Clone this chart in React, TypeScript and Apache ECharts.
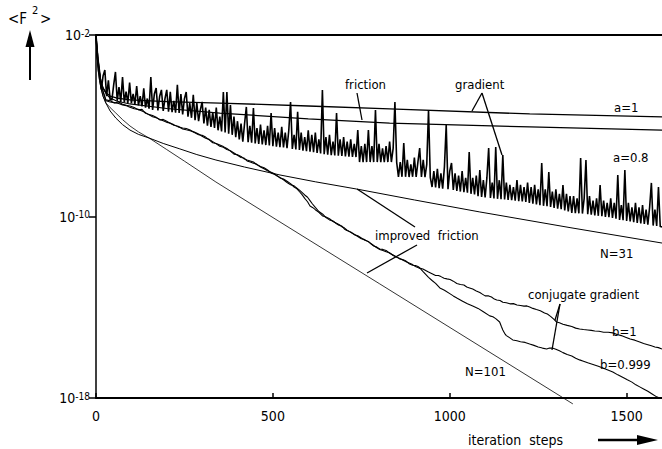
import React, { useEffect, useRef } from "react";
import * as echarts from "echarts";

// x: iteration steps, y: log10 <F^2>
const xTickValues = [0, 500, 1000, 1500];
const yTickValues = [-18, -10, -2];

const gradientA1: [number, number][] = [
  [0, -2], [3, -2.9], [8, -3.54], [14, -4.05], [20, -4.34], [30, -4.57], [40, -4.69], [60, -4.78], [96, -4.86],
  [200, -4.94], [350, -5.0], [600, -5.13], [830, -5.26], [1226, -5.48], [1600, -5.61],
];

const friction: [number, number][] = [
  [0, -2], [3, -2.9], [8, -3.54], [14, -4.05], [20, -4.34], [30, -4.62], [40, -4.78], [60, -4.92], [96, -5.04],
  [200, -5.24], [350, -5.44], [600, -5.7], [830, -5.88], [1226, -6.05], [1600, -6.19],
];

const improvedN31: [number, number][] = [
  [0, -2], [3, -2.9], [6, -3.54], [10, -4.0], [14, -4.34], [20, -4.7], [28, -5.0], [40, -5.35], [56, -5.66], [75, -5.95],
  [96, -6.19], [120, -6.38], [150, -6.54], [190, -6.78], [237, -7.02], [285, -7.27], [339, -7.51], [420, -7.82],
  [520, -8.17], [620, -8.47], [737, -8.79], [900, -9.27], [1085, -9.8], [1340, -10.49], [1600, -11.17],
];

const improvedN101: [number, number][] = [
  [0, -2], [3, -2.9], [6, -3.54], [10, -4.0], [14, -4.34], [20, -4.7], [28, -5.0], [40, -5.2], [56, -5.44], [75, -5.73],
  [96, -6.01], [120, -6.27], [150, -6.54], [200, -7.05], [250, -7.56], [339, -8.48], [520, -10.24], [802, -12.97],
  [1348, -18.26],
];

const gradientA08: [number, number][] = [
  [0,-2.0],[5,-3.0],[10,-3.6],[15,-4.4],[20,-3.8],[25,-3.54],[30,-4.7],[35,-4.0],[40,-4.85],[45,-4.85],[50,-4.2],[55,-3.63],
  [60,-4.9],[65,-4.3],[70,-4.95],[75,-3.85],[80,-4.97],[85,-4.5],[90,-5.0],[95,-4.1],[100,-5.0],[105,-4.6],[110,-5.05],
  [115,-4.25],[120,-5.1],[125,-4.7],[130,-5.15],[135,-4.35],[140,-5.2],[145,-4.8],[150,-5.25],[155,-3.85],[160,-5.3],
  [165,-4.6],[170,-4.34],[175,-5.32],[180,-4.7],[185,-4.42],[190,-5.35],[195,-4.8],[200,-4.42],[205,-5.38],[210,-4.5],
  [215,-5.4],[220,-4.9],[225,-5.42],[230,-4.2],[235,-5.44],[240,-4.6],[245,-5.5],[250,-4.8],[255,-4.51],[260,-5.6],
  [265,-5.0],[270,-5.65],[275,-4.64],[280,-5.75],[285,-5.0],[290,-5.8],[295,-5.3],[300,-4.95],[305,-5.9],[310,-5.2],
  [315,-6.0],[320,-5.3],[325,-6.05],[330,-5.4],[335,-6.1],[340,-5.2],[345,-6.2],[350,-5.6],[355,-6.25],[360,-4.51],
  [365,-6.3],[370,-4.51],[375,-6.35],[380,-5.09],[385,-6.4],[390,-5.6],[395,-6.5],[400,-5.8],[405,-6.6],[410,-5.9],
  [415,-6.7],[420,-5.9],[425,-5.17],[430,-6.72],[435,-6.0],[440,-6.75],[445,-5.22],[450,-6.78],[455,-6.1],[460,-6.8],
  [465,-5.95],[470,-6.82],[475,-6.2],[480,-6.85],[485,-6.0],[490,-6.87],[495,-5.44],[500,-6.9],[505,-6.1],[510,-6.92],
  [515,-6.3],[520,-6.94],[525,-6.05],[530,-6.96],[535,-6.3],[540,-6.99],[545,-6.2],[550,-4.95],[555,-7.02],[560,-6.4],
  [565,-7.04],[570,-5.39],[575,-7.07],[580,-6.3],[585,-7.1],[590,-6.5],[595,-7.12],[600,-6.2],[605,-7.14],[610,-6.4],
  [615,-7.17],[620,-6.3],[625,-7.2],[630,-6.6],[635,-7.22],[640,-4.42],[645,-7.25],[650,-6.5],[655,-7.27],[660,-6.4],
  [665,-7.3],[670,-6.7],[675,-7.31],[680,-5.44],[685,-7.32],[690,-6.6],[695,-7.33],[700,-6.5],[705,-7.35],[710,-6.7],
  [715,-7.36],[720,-6.6],[725,-7.37],[730,-6.8],[735,-7.38],[740,-6.19],[745,-7.6],[750,-6.9],[755,-7.6],[760,-6.8],
  [765,-7.6],[770,-6.19],[775,-7.6],[780,-6.9],[785,-7.6],[790,-5.31],[795,-7.6],[800,-6.8],[805,-7.6],[810,-7.0],
  [815,-7.6],[820,-6.9],[825,-7.6],[830,-6.7],[835,-7.6],[840,-7.0],[845,-4.95],[850,-7.62],[855,-8.26],[860,-7.6],
  [865,-8.25],[870,-6.76],[875,-8.25],[880,-7.5],[885,-8.26],[890,-7.7],[895,-8.25],[900,-7.4],[905,-8.26],[910,-7.6],
  [915,-6.98],[920,-8.26],[925,-7.5],[930,-8.27],[935,-7.7],[940,-5.31],[945,-8.28],[950,-8.7],[955,-8.0],[960,-8.72],
  [965,-7.9],[970,-8.75],[975,-8.1],[980,-8.77],[985,-7.8],[990,-5.97],[995,-8.8],[1000,-8.0],[1005,-7.64],[1010,-8.83],
  [1015,-8.1],[1020,-8.87],[1025,-8.2],[1030,-8.9],[1035,-8.0],[1040,-8.93],[1045,-8.3],[1050,-8.95],[1055,-7.16],
  [1060,-9.0],[1065,-8.3],[1070,-9.03],[1075,-8.2],[1080,-9.1],[1085,-7.95],[1090,-9.14],[1095,-8.4],[1100,-9.16],
  [1105,-8.3],[1110,-6.98],[1115,-9.18],[1120,-8.5],[1125,-9.2],[1130,-6.94],[1135,-9.22],[1140,-8.4],[1145,-9.24],
  [1150,-7.29],[1155,-9.25],[1160,-8.5],[1165,-9.27],[1170,-8.6],[1175,-9.28],[1180,-8.7],[1185,-9.3],[1190,-8.39],
  [1195,-9.32],[1200,-8.6],[1205,-9.34],[1210,-8.7],[1215,-9.36],[1220,-8.5],[1225,-9.4],[1230,-8.7],[1235,-9.43],
  [1240,-8.6],[1245,-9.47],[1250,-8.8],[1255,-9.5],[1260,-7.64],[1265,-9.53],[1270,-8.8],[1275,-9.55],[1280,-8.04],
  [1285,-9.58],[1290,-8.9],[1295,-9.62],[1300,-8.8],[1305,-9.65],[1310,-9.0],[1315,-9.68],[1320,-8.61],[1325,-9.73],
  [1330,-9.0],[1335,-9.78],[1340,-9.1],[1345,-9.84],[1350,-9.1],[1355,-9.85],[1360,-9.2],[1365,-9.86],[1370,-7.42],
  [1375,-9.87],[1380,-9.2],[1385,-7.51],[1390,-9.9],[1395,-9.1],[1400,-9.92],[1405,-9.3],[1410,-9.95],[1415,-9.2],
  [1420,-9.97],[1425,-8.61],[1430,-9.99],[1435,-9.3],[1440,-10.02],[1445,-9.4],[1450,-10.03],[1455,-9.2],[1460,-10.06],
  [1465,-9.4],[1470,-10.1],[1475,-8.17],[1480,-10.15],[1485,-9.5],[1490,-10.16],[1495,-7.95],[1500,-10.2],[1505,-9.4],
  [1510,-10.22],[1515,-9.6],[1520,-10.25],[1525,-9.4],[1530,-10.28],[1535,-9.6],[1540,-10.3],[1545,-9.5],[1550,-10.33],
  [1555,-9.7],[1560,-10.36],[1565,-9.6],[1570,-8.52],[1575,-10.4],[1580,-9.7],[1585,-10.42],[1590,-8.7],[1595,-10.44],
  [1600,-10.46],
];

const conjugateB1: [number, number][] = [
  [0,-2],[6,-3.1],[14,-4.2],[28,-4.86],[40,-4.9],[52,-5.0],[64,-4.95],[75,-5.05],[86,-5.1],[96,-5.13],[108,-5.2],[120,-5.3],
  [130,-5.28],[140,-5.45],[150,-5.5],[160,-5.55],[170,-5.62],[181,-5.75],[190,-5.72],[200,-5.8],[210,-5.9],[220,-5.95],
  [232,-6.05],[245,-6.1],[255,-6.12],[266,-6.19],[278,-6.3],[290,-6.4],[300,-6.42],[310,-6.5],[320,-6.62],[330,-6.75],
  [340,-6.78],[350,-6.85],[360,-6.92],[370,-7.0],[380,-7.12],[390,-7.25],[400,-7.28],[410,-7.35],[418,-7.45],[427,-7.51],
  [436,-7.55],[445,-7.6],[455,-7.72],[465,-7.8],[475,-7.85],[485,-7.95],[495,-8.08],[505,-8.15],[512,-8.2],[520,-8.3],
  [530,-8.35],[540,-8.45],[550,-8.55],[560,-8.7],[568,-8.78],[576,-8.92],[583,-9.05],[590,-9.2],[598,-9.35],[605,-9.54],
  [612,-9.6],[620,-9.7],[630,-9.82],[641,-9.98],[650,-10.02],[660,-10.1],[670,-10.22],[680,-10.3],[688,-10.36],[695,-10.45],
  [702,-10.5],[709,-10.59],[720,-10.7],[730,-10.8],[740,-10.85],[750,-10.95],[760,-11.05],[770,-11.1],[778,-11.22],
  [785,-11.3],[794,-11.35],[802,-11.43],[811,-11.45],[820,-11.5],[830,-11.62],[840,-11.7],[850,-11.78],[859,-11.87],
  [867,-11.9],[875,-11.95],[885,-12.08],[895,-12.15],[903,-12.16],[910,-12.2],[917,-12.28],[924,-12.31],[932,-12.38],
  [940,-12.45],[950,-12.52],[960,-12.6],[968,-12.6],[975,-12.65],[984,-12.72],[992,-12.75],[1001,-12.78],[1010,-12.85],
  [1020,-12.95],[1030,-13.0],[1040,-13.02],[1048,-13.11],[1056,-13.15],[1065,-13.2],[1075,-13.28],[1085,-13.35],
  [1092,-13.42],[1100,-13.5],[1110,-13.5],[1118,-13.55],[1126,-13.64],[1133,-13.68],[1142,-13.7],[1150,-13.78],
  [1160,-13.8],[1170,-13.85],[1180,-13.84],[1190,-13.9],[1200,-13.92],[1210,-13.95],[1218,-13.94],[1226,-13.99],
  [1235,-14.05],[1245,-14.1],[1256,-14.15],[1268,-14.25],[1276,-14.3],[1285,-14.4],[1294,-14.52],[1302,-14.65],
  [1310,-14.68],[1320,-14.75],[1332,-14.8],[1345,-14.85],[1356,-14.92],[1367,-14.96],[1378,-14.98],[1390,-15.0],
  [1400,-15.02],[1410,-15.05],[1422,-15.06],[1435,-15.1],[1448,-15.1],[1461,-15.13],[1473,-15.2],[1485,-15.25],
  [1497,-15.32],[1510,-15.4],[1523,-15.45],[1537,-15.53],[1548,-15.6],[1560,-15.65],[1570,-15.7],[1580,-15.75],
  [1590,-15.78],[1600,-15.84],
];

const conjugateB0999: [number, number][] = [
  [0,-2],[6,-3.1],[14,-4.2],[28,-4.9],[40,-4.95],[52,-4.98],[64,-5.02],[75,-5.08],[86,-5.12],[96,-5.18],[108,-5.25],
  [120,-5.28],[130,-5.35],[140,-5.42],[150,-5.52],[160,-5.6],[170,-5.65],[181,-5.72],[190,-5.78],[200,-5.85],[210,-5.88],
  [220,-5.98],[232,-6.02],[245,-6.14],[255,-6.18],[266,-6.22],[278,-6.28],[290,-6.36],[300,-6.46],[310,-6.55],[320,-6.6],
  [330,-6.7],[340,-6.8],[350,-6.9],[360,-6.95],[370,-7.05],[380,-7.1],[390,-7.2],[400,-7.3],[410,-7.4],[418,-7.42],
  [427,-7.55],[436,-7.6],[445,-7.65],[455,-7.7],[465,-7.82],[475,-7.9],[485,-7.98],[495,-8.05],[505,-8.12],[512,-8.22],
  [520,-8.28],[530,-8.38],[540,-8.5],[550,-8.6],[560,-8.65],[568,-8.75],[576,-8.85],[583,-8.95],[590,-9.05],[598,-9.15],
  [605,-9.3],[612,-9.45],[620,-9.6],[630,-9.78],[641,-9.9],[650,-10.05],[660,-10.15],[670,-10.2],[680,-10.32],[688,-10.4],
  [695,-10.42],[702,-10.55],[709,-10.62],[720,-10.68],[730,-10.78],[740,-10.88],[750,-10.98],[760,-11.02],[770,-11.12],
  [778,-11.2],[785,-11.28],[794,-11.38],[802,-11.45],[811,-11.5],[820,-11.55],[830,-11.6],[840,-11.72],[850,-11.8],
  [859,-11.85],[867,-11.92],[875,-11.98],[885,-12.05],[895,-12.12],[903,-12.2],[910,-12.25],[917,-12.3],[924,-12.42],
  [932,-12.55],[940,-12.68],[950,-12.82],[960,-12.95],[972,-13.15],[985,-13.25],[1000,-13.4],[1010,-13.5],[1020,-13.59],
  [1035,-13.72],[1050,-13.85],[1065,-13.95],[1080,-14.05],[1095,-14.2],[1113,-14.38],[1122,-14.42],[1130,-14.5],
  [1141,-14.65],[1146,-14.85],[1150,-15.0],[1155,-15.15],[1160,-15.25],[1170,-15.35],[1178,-15.44],[1190,-15.48],
  [1200,-15.52],[1213,-15.55],[1226,-15.62],[1238,-15.68],[1250,-15.75],[1262,-15.8],[1274,-15.84],[1282,-15.8],
  [1290,-15.8],[1300,-15.85],[1310,-15.92],[1320,-16.0],[1332,-16.08],[1345,-16.15],[1356,-16.25],[1367,-16.32],
  [1378,-16.38],[1390,-16.45],[1405,-16.52],[1420,-16.6],[1440,-16.72],[1461,-16.85],[1475,-16.98],[1490,-17.1],
  [1502,-17.2],[1515,-17.3],[1526,-17.42],[1537,-17.51],[1548,-17.6],[1560,-17.7],[1572,-17.82],[1585,-17.95],
  [1593,-18.0],[1600,-18.0],
];

const FONT = "'DejaVu Sans Condensed', 'Liberation Sans Narrow', 'Liberation Sans', sans-serif";

export default function App() {
  const ref = useRef<HTMLDivElement>(null);

  useEffect(() => {
    if (!ref.current) return;
    const chart = echarts.init(ref.current, null, { renderer: "svg" });

    const line = (name: string, data: [number, number][], width: number, extra: any = {}) => ({
      type: "line",
      name,
      data,
      symbol: "none",
      showSymbol: false,
      silent: true,
      lineStyle: { color: "#000", width },
      ...extra,
    });

    const txt = (text: string, x: number, y: number, size = 13) => ({
      type: "text",
      x,
      y,
      silent: true,
      style: {
        text,
        fill: "#000",
        font: `${size}px ${FONT}`,
        textAlign: "left",
        textVerticalAlign: "middle",
        align: "left",
        verticalAlign: "middle",
      },
    });

    const seg = (x1: number, y1: number, x2: number, y2: number, w = 1.3) => ({
      type: "line",
      silent: true,
      shape: { x1, y1, x2, y2 },
      style: { stroke: "#000", lineWidth: w },
    });

    chart.setOption({
      animation: false,
      backgroundColor: "#fff",
      grid: { left: 96, top: 35, right: 0, bottom: 51, containLabel: false },
      xAxis: [
        {
          type: "value",
          min: 0,
          max: 1600,
          position: "bottom",
          axisLine: { show: true, onZero: false, lineStyle: { color: "#000", width: 2 } },
          axisTick: { show: true, inside: true, length: 5, customValues: xTickValues, lineStyle: { color: "#000", width: 1.5 } },
          axisLabel: {
            show: true,
            customValues: xTickValues,
            formatter: (v: number) => String(v),
            margin: 11,
            color: "#000",
            fontSize: 14,
            fontFamily: FONT,
          },
          splitLine: { show: false },
        },
        {
          type: "value",
          min: 0,
          max: 1600,
          position: "top",
          axisLine: { show: true, onZero: false, lineStyle: { color: "#000", width: 2 } },
          axisTick: { show: false },
          axisLabel: { show: false },
          splitLine: { show: false },
        },
      ],
      yAxis: {
        type: "value",
        min: -18,
        max: -2,
        axisLine: { show: true, onZero: false, lineStyle: { color: "#000", width: 1.5 } },
        axisTick: { show: true, length: 7, customValues: yTickValues, lineStyle: { color: "#000", width: 1.5 } },
        axisLabel: {
          show: true,
          customValues: yTickValues,
          margin: 6,
          formatter: (v: number) => `{b|10}{s|${v}}`,
          rich: {
            b: { fontSize: 14, fontFamily: FONT, color: "#000", lineHeight: 14, padding: [10, 0, 0, 0], verticalAlign: "bottom" },
            s: { fontSize: 10, fontFamily: FONT, color: "#000", lineHeight: 10, verticalAlign: "top" },
          },
        },
        splitLine: { show: false },
      },
      series: [
        line("gradient a=1", gradientA1, 1.3),
        line("friction", friction, 1.2),
        line("improved friction N=31", improvedN31, 1),
        line("improved friction N=101", improvedN101, 0.8, { clip: false }),
        line("gradient a=0.8", gradientA08, 1.6, { lineStyle: { color: "#000", width: 1.6, join: "miter", miterLimit: 4 } }),
        line("conjugate gradient b=1", conjugateB1, 1.1),
        line("conjugate gradient b=0.999", conjugateB0999, 1.1),
      ],
      graphic: [
        txt("<F", 8, 19, 15),
        txt("2", 32, 10, 11),
        txt(">", 40, 19, 15),
        seg(30, 80, 30, 42, 2),
        { type: "polygon", silent: true, shape: { points: [[25.5, 47], [30, 30], [34.5, 47]] }, style: { fill: "#000" } },
        txt("iteration  steps", 468, 440, 14),
        seg(598, 440, 645, 440, 2.5),
        { type: "polygon", silent: true, shape: { points: [[637, 435], [658, 440], [637, 445]] }, style: { fill: "#000" } },
        txt("friction", 345, 84),
        seg(357, 93, 362, 120),
        txt("gradient", 455, 84),
        seg(482, 93, 472, 111),
        seg(482, 93, 502, 155),
        txt("a=1", 614, 107),
        txt("a=0.8", 613, 157),
        txt("improved  friction", 375, 235),
        seg(415, 227, 357, 189),
        seg(417, 245, 367, 273),
        txt("N=31", 600, 253),
        txt("conjugate gradient", 528, 294),
        seg(560, 304, 555, 320),
        seg(560, 304, 552, 350),
        txt("b=1", 612, 331),
        txt("b=0.999", 600, 364),
        txt("N=101", 465, 371),
      ],
    });

    return () => chart.dispose();
  }, []);

  return (
    <div
      ref={ref}
      style={{ position: "fixed", left: 0, top: 0, width: 662, height: 449, background: "#fff" }}
    />
  );
}
